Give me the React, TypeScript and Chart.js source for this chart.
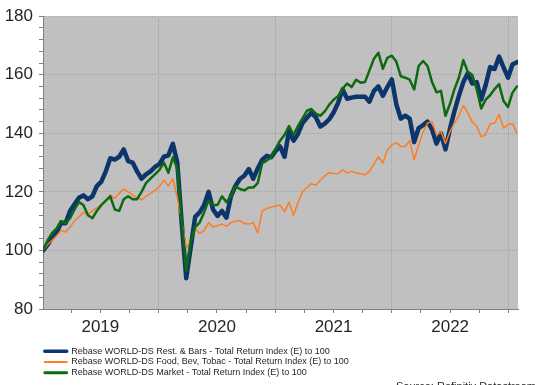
import React, { useEffect, useRef } from 'react';
import Chart from 'chart.js/auto';

// ---- data (biweekly samples starting early Jan 2019) ----
const startYear = 2019.01;
const stepYears = 14 / 365.25;

const restBars = [
  100, 102, 104.5, 106.2, 109.5, 109.3, 113.5, 115.8, 118, 118.8,
  117.5, 118.5, 122, 123.5, 127, 131.5, 131, 132, 134.5, 130.5,
  130, 127, 124.5, 126, 127, 128.5, 129.5, 132, 132.5, 136.4,
  130, 109, 90.5, 101, 111.5, 113, 115.5, 120, 114, 111.8,
  113.5, 111.2, 118.5, 122, 124.4, 125.5, 127.8, 124.5, 128, 131,
  132.3, 131.8, 134, 135.5, 132, 140.8, 137.5, 139.8, 143.5, 145.3,
  147, 145.5, 142.3, 143.3, 144.8, 147.2, 150.5, 155, 151.8, 152.2,
  152.5, 152.5, 152.5, 150.8, 154.5, 156, 152.8, 155.8, 158.4, 150,
  145, 146, 145, 137, 141.8, 142.8, 144, 141.3, 136.5, 140,
  134.5, 141.5, 147.5, 152.8, 157.5, 160.5, 157, 157.5, 151.5, 156.5,
  162.6, 162, 166.2, 162.5, 159, 163.5, 164.3,
];

const foodBev = [
  100, 102, 103.5, 105, 106.8, 106.3, 108, 110, 111.5, 113,
  112.3, 113.5, 114.5, 115.5, 117, 119, 117.8, 119.5, 121, 120,
  119, 118, 117.3, 118.5, 119.5, 120.5, 121.8, 124, 122, 124.5,
  118, 110, 101, 103, 107.5, 105.8, 106.8, 109.5, 108, 108.5,
  109, 108.3, 109.5, 110, 110.2, 109.2, 109, 109.5, 106, 113.5,
  114.3, 114.8, 115.2, 115.5, 113.3, 116.5, 112, 116.4, 120, 121.5,
  122.8, 122.3, 124, 125.5, 126.5, 126.3, 126.2, 127.5, 126.5, 127,
  126.5, 126.2, 125.8, 127, 129.5, 132, 129.8, 134.3, 136, 136.8,
  135.5, 135.5, 137.5, 131, 136, 140.5, 143.5, 144, 139.5, 140.5,
  136.5, 140.5, 143.5, 146, 149.5, 147, 143.8, 142.5, 138.8, 139.5,
  143.3, 143.5, 146.5, 141.8, 143, 143.3, 140,
];

const market = [
  100, 103.5, 106, 107.5, 110, 109.3, 111, 114, 116.5, 115.5,
  112, 111, 113.5, 115.5, 117, 118.5, 114, 113.5, 117.5, 118.5,
  117.5, 117.5, 120, 123, 124.5, 126, 127.5, 130, 126.5, 131.8,
  128, 110, 93, 103, 108, 109.5, 113, 117, 115.5, 115.5,
  118.5, 116.5, 118.5, 122, 121, 120.5, 121.5, 121.5, 123, 129.8,
  130.7, 131.8, 134.8, 137.5, 139.5, 142.5, 139.5, 142.5, 145, 147.7,
  148.3, 146.7, 146, 147.5, 149.8, 151.5, 152.8, 155.3, 157, 155.8,
  158.3, 157.3, 157.5, 161.5, 165.5, 167.5, 162, 165.8, 166.5, 164.5,
  159.5, 159, 158.3, 155, 163, 164.7, 163, 157.5, 154, 154.5,
  146, 150, 155, 159, 165, 161, 160, 155, 148.5, 151.5,
  153, 155.1, 156.8, 151, 149, 153.9, 156,
];

const seriesLabels = [
  'Rebase WORLD-DS Rest. & Bars - Total Return Index (E) to 100',
  'Rebase WORLD-DS Food, Bev, Tobac - Total Return Index (E) to 100',
  'Rebase WORLD-DS Market - Total Return Index (E) to 100',
];
const yearTicks = [2019, 2020, 2021, 2022, 2023];
const yearLabels = ['2019', '2020', '2021', '2022'];
const yTickLabels = [80, 100, 120, 140, 160, 180];
const sourceText = 'Source: Refinitiv Datastream';

// ---- styles ----
const NAVY = '#0b356b';
const ORANGE = '#ff7c22';
const GREEN = '#0c6a10';
const FONT = "'Liberation Sans', Arial, sans-serif";
const GRID = '#a4a4a4';
const AXIS = '#808080';
const TEXT = '#262626';
const legendLineWidths = [3.5, 2, 2.8];

export default function App() {
  const ref = useRef<HTMLCanvasElement | null>(null);

  useEffect(() => {
    if (!ref.current) return;
    const toPoints = (arr: number[]) => arr.map((v, i) => ({ x: startYear + i * stepYears, y: v }));

    const quarterTicks: number[] = [];
    for (let k = 0; k < yearTicks.length - 1; k++) {
      const y0 = yearTicks[k];
      [0, 0.25, 0.5, 0.75, 1].forEach((q) => {
        const v = y0 + q;
        if (v > 2019 && !quarterTicks.includes(v)) quarterTicks.push(v);
      });
    }
    const yMinor: number[] = [];
    for (let v = yTickLabels[0]; v <= yTickLabels[yTickLabels.length - 1]; v += 4) yMinor.push(v);

    const bgPlugin = {
      id: 'plotBg',
      beforeDraw(chart: any) {
        const { ctx, chartArea: a } = chart;
        ctx.save();
        ctx.fillStyle = '#c0c0c0';
        ctx.fillRect(a.left, a.top, a.right - a.left, a.bottom - a.top);
        ctx.restore();
      },
    };

    const defaultGen = (Chart as any).defaults.plugins.legend.labels.generateLabels;

    const chart = new Chart(ref.current, {
      type: 'line',
      data: {
        datasets: [
          { label: seriesLabels[0], data: toPoints(restBars), borderColor: NAVY, backgroundColor: NAVY, borderWidth: 4.5, order: 3 },
          { label: seriesLabels[1], data: toPoints(foodBev), borderColor: ORANGE, backgroundColor: ORANGE, borderWidth: 1.5, order: 2 },
          { label: seriesLabels[2], data: toPoints(market), borderColor: GREEN, backgroundColor: GREEN, borderWidth: 2.5, order: 1 },
        ],
      },
      options: {
        animation: false,
        responsive: false,
        maintainAspectRatio: false,
        elements: {
          point: { radius: 0, hoverRadius: 0 },
          line: { tension: 0, borderJoinStyle: 'round', borderCapStyle: 'round' },
        },
        layout: { padding: { top: 15, right: 0, left: 0, bottom: -8.45 } },
        scales: {
          x: {
            type: 'linear',
            min: 2019.008,
            max: 2023.082,
            afterBuildTicks: (s: any) => {
              s.ticks = quarterTicks.map((v) => ({ value: v }));
            },
            afterFit: (s: any) => {
              s.height = 36;
            },
            ticks: {
              autoSkip: false,
              maxRotation: 0,
              padding: 4,
              color: TEXT,
              font: { family: FONT, size: 17 },
              callback: (v: any) => {
                const val = Number(v);
                const frac = val - Math.floor(val);
                if (Math.abs(frac - 0.5) < 1e-6) {
                  const idx = Math.floor(val) - yearTicks[0];
                  return yearLabels[idx] ?? '';
                }
                return '';
              },
            },
            grid: {
              color: (c: any) => (c.tick && Number.isInteger(c.tick.value) ? GRID : 'rgba(0,0,0,0)'),
              tickColor: AXIS,
              tickLength: 4,
              lineWidth: 1,
              tickBorderDash: [],
            } as any,
            border: { color: AXIS, width: 1, dash: [1, 1] },
          },
          y: {
            min: 80,
            max: 180,
            afterBuildTicks: (s: any) => {
              s.ticks = yMinor.map((v) => ({ value: v }));
            },
            afterFit: (s: any) => {
              s.width = 43;
            },
            ticks: {
              autoSkip: false,
              padding: 6,
              color: TEXT,
              font: { family: FONT, size: 17 },
              callback: (v: any) => (yTickLabels.includes(Number(v)) ? String(v) : ''),
            },
            grid: {
              color: (c: any) => (c.tick && yTickLabels.includes(c.tick.value) ? GRID : 'rgba(0,0,0,0)'),
              tickColor: AXIS,
              tickLength: 4,
              lineWidth: 1,
              tickBorderDash: [],
            } as any,
            border: { color: AXIS, width: 1, dash: [1, 1] },
          },
          yRight: {
            type: 'linear',
            position: 'right',
            display: true,
            ticks: { display: false },
            grid: { display: false },
            border: { display: false },
            afterFit: (s: any) => {
              s.width = 18;
            },
          },
        },
        plugins: {
          tooltip: { enabled: false },
          legend: {
            position: 'bottom',
            align: 'start',
            fullSize: false,
            labels: {
              boxWidth: 22,
              boxHeight: 0,
              padding: 1.75,
              color: TEXT,
              font: { family: FONT, size: 9 },
              generateLabels: (ch: any) =>
                defaultGen(ch)
                  .map((it: any) => ({
                    ...it,
                    fillStyle: it.strokeStyle,
                    lineWidth: legendLineWidths[it.datasetIndex],
                    lineCap: 'butt',
                  }))
                  .sort((a: any, b: any) => a.datasetIndex - b.datasetIndex),
            },
          },
          title: {
            display: true,
            position: 'bottom',
            align: 'end',
            text: sourceText,
            color: TEXT,
            font: { family: FONT, size: 11, weight: 'normal' },
            padding: { top: -7, bottom: 0 },
          },
        },
      } as any,
      plugins: [bgPlugin],
    });

    return () => chart.destroy();
  }, []);

  return (
    <div style={{ position: 'absolute', left: 0, top: 0, width: 536, height: 385, background: '#fff' }}>
      <canvas ref={ref} width={536} height={385} style={{ display: 'block' }} />
    </div>
  );
}
